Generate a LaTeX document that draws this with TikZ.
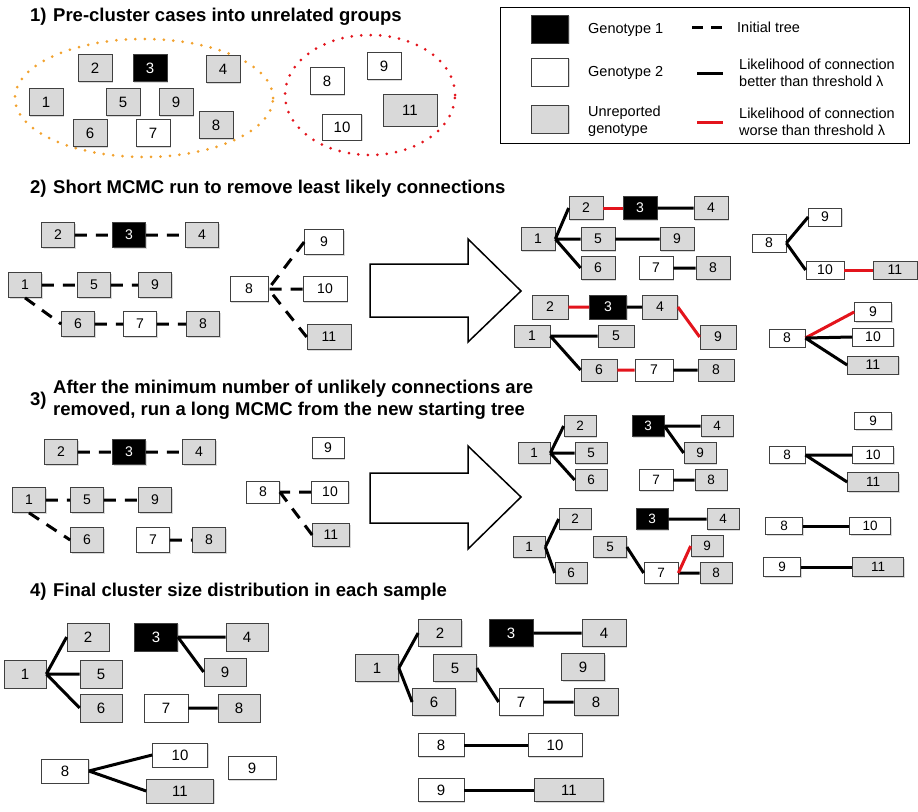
\documentclass[tikz,border=0pt]{standalone}
\usepackage{fontspec}
\setmainfont{Liberation Sans}
\usetikzlibrary{shadows}
\definecolor{unrep}{HTML}{D9D9D9}
\definecolor{badred}{HTML}{E3141C}
\definecolor{dotorange}{HTML}{F2A22E}

\begin{document}
\begin{tikzpicture}[x=1pt,y=-1pt,
 case/.style={draw=black!75, line width=0.7pt, inner sep=0pt, font=\fontsize{14}{14}\selectfont, drop shadow={shadow xshift=1.2pt, shadow yshift=-1.2pt, opacity=0.3}},
 gbox/.style={case, fill=unrep},
 wbox/.style={case, fill=white},
 bbox/.style={case, fill=black, text=white},
 sz/.style 2 args={minimum width=#1pt, minimum height=#2pt},
 init/.style={line width=3pt, dash pattern=on 12pt off 9pt},
 good/.style={line width=3pt},
 bad/.style={line width=3pt, badred},
 title/.style={anchor=west, inner sep=0pt, font=\fontsize{18.5}{21.5}\selectfont\bfseries, align=left},
 legtext/.style={anchor=west, inner sep=0pt, font=\fontsize{14.5}{17}\selectfont, align=left},
 bigarrow/.style={draw, line width=1.5pt, fill=white, line join=miter}]
\useasboundingbox (0,0) rectangle (918,811);

\node[title] (t1n) at (30,17) {1)};
\node[title] (t1) at (53,17) {Pre-cluster cases into unrelated groups};
\node[title] (t2n) at (30,189) {2)};
\node[title] (t2) at (53,189) {Short MCMC run to remove least likely connections};
\node[title] (t3n) at (30,401) {3)};
\node[title] (t3) at (53,400) {After the minimum number of unlikely connections are\\removed, run a long MCMC from the new starting tree};
\node[title] (t4n) at (30,592) {4)};
\node[title] (t4) at (53,592) {Final cluster size distribution in each sample};

\draw[line width=0.8pt] (500,7) rectangle (909,143);
\node[bbox,sz={37}{28}] (k1) at (550,29) {};
\node[wbox,sz={37}{28}] (k2) at (550,72) {};
\node[gbox,sz={37}{28}] (k3) at (550,119) {};
\node[legtext] (k1t) at (588,30) {Genotype 1};
\node[legtext] (k2t) at (588,73) {Genotype 2};
\node[legtext] (k3t) at (588,121) {Unreported\\genotype};
\coordinate (l1a) at (692,27); \coordinate (l1b) at (724,27);
\coordinate (l2a) at (697,73); \coordinate (l2b) at (723,73);
\coordinate (l3a) at (697,122); \coordinate (l3b) at (723,122);
\draw[line width=3pt, dash pattern=on 11pt off 8pt] (l1a) -- (l1b);
\draw[good] (l2a) -- (l2b);
\draw[bad] (l3a) -- (l3b);
\node[legtext] (l1t) at (737,27) {Initial tree};
\node[legtext] (l2t) at (739,73) {Likelihood of connection\\better than threshold λ};
\node[legtext] (l3t) at (739,122) {Likelihood of connection\\worse than threshold λ};

\draw[dotorange, line width=3pt, line cap=round, dash pattern=on 0pt off 9.5pt] (144,98) ellipse [x radius=129pt, y radius=59pt];
\draw[badred, line width=3pt, line cap=round, dash pattern=on 0pt off 9.5pt] (370,95) ellipse [x radius=85pt, y radius=60pt];
\begin{scope}[case/.append style={sz={34}{27},font=\fontsize{15}{15}\selectfont}]
\node[gbox] (A2) at (95,68) {2};
\node[bbox] (A3) at (150,68) {3};
\node[gbox] (A4) at (223,69) {4};
\node[gbox] (A1) at (46,102) {1};
\node[gbox] (A5) at (123,102) {5};
\node[gbox] (A9) at (176,102) {9};
\node[gbox] (A6) at (90,133) {6};
\node[wbox] (A7) at (153,133) {7};
\node[gbox] (A8) at (216,125) {8};
\node[wbox] (Ax8) at (327,81) {8};
\node[wbox] (Ax9) at (384,66) {9};
\node[wbox,sz={39}{26}] (Ax10) at (342,127) {10};
\node[gbox,sz={54}{32}] (Ax11) at (410,110) {11};
\end{scope}

\begin{scope}[case/.append style={sz={33}{25}}]
\node[gbox] (B2) at (58,235) {2};
\node[bbox] (B3) at (129,235) {3};
\node[gbox] (B4) at (202,235) {4};
\node[gbox] (B1) at (25,285) {1};
\node[gbox] (B5) at (94,285) {5};
\node[gbox] (B9) at (155,285) {9};
\node[gbox] (B6) at (78,324) {6};
\node[wbox] (B7) at (140,324) {7};
\node[gbox] (B8) at (203,324) {8};
\node[wbox,sz={38}{25}] (Bx8) at (249,289) {8};
\node[wbox,sz={39}{25}] (Bx9) at (324,242) {9};
\node[wbox,sz={44}{25}] (Bx10) at (325,289) {10};
\node[gbox,sz={44}{25}] (Bx11) at (329,337) {11};
\end{scope}
\draw[init] (B2) -- (B3) (B3) -- (B4) (B1) -- (B5) (B5) -- (B9) (B1.south) -- (B6.west) (B6) -- (B7) (B7) -- (B8);
\draw[init] (Bx9.west) -- (Bx8.east) (Bx10) -- (Bx8) (Bx11.west) -- (Bx8.east);
\draw[bigarrow] (370,264) -- (468,264) -- (468,239) -- (521,291) -- (468,342) -- (468,317) -- (370,317) -- cycle;

\begin{scope}[case/.append style={sz={34}{23}}]
\node[gbox] (C2) at (586,208) {2};
\node[bbox] (C3) at (640,208) {3};
\node[gbox] (C4) at (711,208) {4};
\node[gbox] (C1) at (538,239) {1};
\node[gbox] (C5) at (598,239) {5};
\node[gbox] (C9) at (677,239) {9};
\node[gbox] (C6) at (598,268) {6};
\node[wbox] (C7) at (656,268) {7};
\node[gbox] (C8) at (713,268) {8};
\node[wbox,sz={34}{18}] (Cx8) at (769,243) {8};
\node[wbox,sz={33}{18}] (Cx9) at (825,217) {9};
\node[wbox,sz={38}{18}] (Cx10) at (825,270) {10};
\node[gbox,sz={44}{18}] (Cx11) at (895,270) {11};
\end{scope}
\draw[good] (C1.east) -- (C2.west) (C1.east) -- (C5.west) (C1.east) -- (C6.west) (C3) -- (C4) (C5) -- (C9) (C7) -- (C8);
\draw[bad] (C2) -- (C3);
\draw[good] (Cx8.east) -- (Cx9.west) (Cx8.east) -- (Cx10.west);
\draw[bad] (Cx10) -- (Cx11);

\begin{scope}[case/.append style={sz={36}{22}}]
\node[gbox,sz={36}{24}] (D2) at (550,307) {2};
\node[bbox,sz={37}{24}] (D3) at (608,307) {3};
\node[gbox,sz={35}{24}] (D4) at (660,307) {4};
\node[gbox,sz={36}{24}] (D9) at (718,337) {9};
\node[gbox] (D1) at (532,336) {1};
\node[gbox] (D5) at (616,336) {5};
\node[gbox] (D6) at (599,370) {6};
\node[wbox,sz={38}{22}] (D7) at (654,370) {7};
\node[gbox] (D8) at (716,370) {8};
\node[wbox,sz={36}{18}] (Dx8) at (787,338) {8};
\node[wbox,sz={37}{19}] (Dx9) at (873,312) {9};
\node[wbox,sz={41}{18}] (Dx10) at (873,337) {10};
\node[gbox,sz={51}{18}] (Dx11) at (873,365) {11};
\end{scope}
\draw[bad] (D2) -- (D3) (D4.east) -- (D9.west) (D6) -- (D7);
\draw[good] (D3) -- (D4) (D1) -- (D5) (D1.east) -- (D6.west) (D7) -- (D8);
\draw[bad] (Dx8.east) -- (Dx9.west);
\draw[good] (Dx8.east) -- (Dx10.west) (Dx8.east) -- (Dx11.west);

\begin{scope}[case/.append style={sz={33}{25}}]
\node[gbox] (E2) at (61,452) {2};
\node[bbox] (E3) at (129,452) {3};
\node[gbox] (E4) at (199,452) {4};
\node[gbox] (E1) at (29,500) {1};
\node[gbox] (E5) at (87,500) {5};
\node[gbox] (E9) at (155,500) {9};
\node[gbox] (E6) at (87,540) {6};
\node[wbox] (E7) at (153,540) {7};
\node[gbox] (E8) at (209,540) {8};
\node[wbox,sz={32}{21}] (Ex9) at (328,448) {9};
\node[wbox,sz={33}{22}] (Ex8) at (263,492) {8};
\node[wbox,sz={37}{22}] (Ex10) at (330,492) {10};
\node[gbox,sz={37}{23}] (Ex11) at (331,535) {11};
\end{scope}
\draw[init] (E2) -- (E3) (E3) -- (E4) (E1) -- (E5) (E5) -- (E9) (E1.south) -- (E6.west) (E7) -- (E8);
\draw[init] (Ex10) -- (Ex8) (Ex11.west) -- (Ex8.east);
\draw[bigarrow] (370,473) -- (468,473) -- (468,446) -- (521,497) -- (468,549) -- (468,523) -- (370,523) -- cycle;

\begin{scope}[case/.append style={sz={32}{21},font=\fontsize{13.5}{13.5}\selectfont}]
\node[gbox] (F2) at (580,426) {2};
\node[gbox] (F1) at (534,453) {1};
\node[gbox] (F5) at (591,453) {5};
\node[gbox] (F6) at (591,480) {6};
\node[bbox] (F3) at (648,426) {3};
\node[gbox] (F4) at (717,426) {4};
\node[gbox] (F9) at (700,453) {9};
\node[wbox,sz={34}{21}] (F7) at (656,480) {7};
\node[gbox] (F8) at (711,480) {8};
\node[wbox,sz={37}{17}] (Fx9) at (873,421) {9};
\node[wbox,sz={36}{17}] (Fx8) at (787,455) {8};
\node[wbox,sz={41}{17}] (Fx10) at (873,455) {10};
\node[gbox,sz={51}{19}] (Fx11) at (873,482) {11};
\node[gbox] (G2) at (575,519) {2};
\node[gbox] (G1) at (529,547) {1};
\node[gbox] (G6) at (571,573) {6};
\node[bbox] (G3) at (652,519) {3};
\node[gbox] (G4) at (723,519) {4};
\node[gbox,sz={33}{21}] (G5) at (610,547) {5};
\node[gbox] (G9) at (707,546) {9};
\node[wbox,sz={34}{21}] (G7) at (661,573) {7};
\node[gbox] (G8) at (716,573) {8};
\node[wbox,sz={37}{17}] (Gx8) at (784,526) {8};
\node[wbox,sz={41}{17}] (Gx10) at (870,526) {10};
\node[wbox,sz={37}{19}] (Gx9) at (782,567) {9};
\node[gbox,sz={51}{19}] (Gx11) at (878,567) {11};
\end{scope}
\draw[good] (F1.east) -- (F2.west) (F1.east) -- (F5.west) (F1.east) -- (F6.west) (F3.east) -- (F4.west) (F3.east) -- (F9.west) (F7) -- (F8);
\draw[good] (Fx8) -- (Fx10) (Fx8.east) -- (Fx11.west);
\draw[good] (G1.east) -- (G2.west) (G1.east) -- (G6.west) (G3) -- (G4) (G5.east) -- (G7.west) (G7) -- (G8);
\draw[bad] (G7.east) -- (G9.west);
\draw[good] (Gx8) -- (Gx10) (Gx9) -- (Gx11);

\begin{scope}[case/.append style={sz={42}{28},font=\fontsize{15}{15}\selectfont}]
\node[gbox] (H2) at (88,637) {2};
\node[bbox,sz={43}{28}] (H3) at (156,637) {3};
\node[gbox] (H4) at (247,637) {4};
\node[gbox] (H1) at (25,674) {1};
\node[gbox] (H5) at (101,674) {5};
\node[gbox] (H9) at (225,672) {9};
\node[gbox] (H6) at (101,708) {6};
\node[wbox,sz={44}{28}] (H7) at (166,708) {7};
\node[gbox] (H8) at (239,708) {8};
\node[wbox,sz={47}{24}] (Hx8) at (65,771) {8};
\node[wbox,sz={55}{24}] (Hx10) at (180,755) {10};
\node[gbox,sz={67}{24}] (Hx11) at (180,791) {11};
\node[wbox,sz={48}{23}] (Hx9) at (252,768) {9};
\node[gbox,sz={43}{27}] (I2) at (440,633) {2};
\node[gbox,sz={43}{27}] (I1) at (377,668) {1};
\node[gbox,sz={43}{27}] (I6) at (434,702) {6};
\node[gbox,sz={43}{27}] (I5) at (455,668) {5};
\node[bbox,sz={44}{27}] (I3) at (511,633) {3};
\node[gbox,sz={44}{27}] (I4) at (604,633) {4};
\node[gbox,sz={43}{27}] (I9) at (583,667) {9};
\node[wbox,sz={44}{27}] (I7) at (521,702) {7};
\node[gbox,sz={44}{27}] (I8) at (596,702) {8};
\node[wbox,sz={46}{23}] (Ix8) at (441,745) {8};
\node[wbox,sz={54}{23}] (Ix10) at (555,745) {10};
\node[wbox,sz={46}{23}] (Ix9) at (441,790) {9};
\node[gbox,sz={69}{23}] (Ix11) at (569,790) {11};
\end{scope}
\draw[good] (H1.east) -- (H2.west) (H1.east) -- (H5.west) (H1.east) -- (H6.west) (H3.east) -- (H4.west) (H3.east) -- (H9.west) (H7) -- (H8);
\draw[good] (Hx8.east) -- (Hx10.west) (Hx8.east) -- (Hx11.west);
\draw[good] (I1.east) -- (I2.west) (I1.east) -- (I6.west) (I5.east) -- (I7.west) (I3) -- (I4) (I7) -- (I8);
\draw[good] (Ix8) -- (Ix10) (Ix9) -- (Ix11);
\end{tikzpicture}
\end{document}
